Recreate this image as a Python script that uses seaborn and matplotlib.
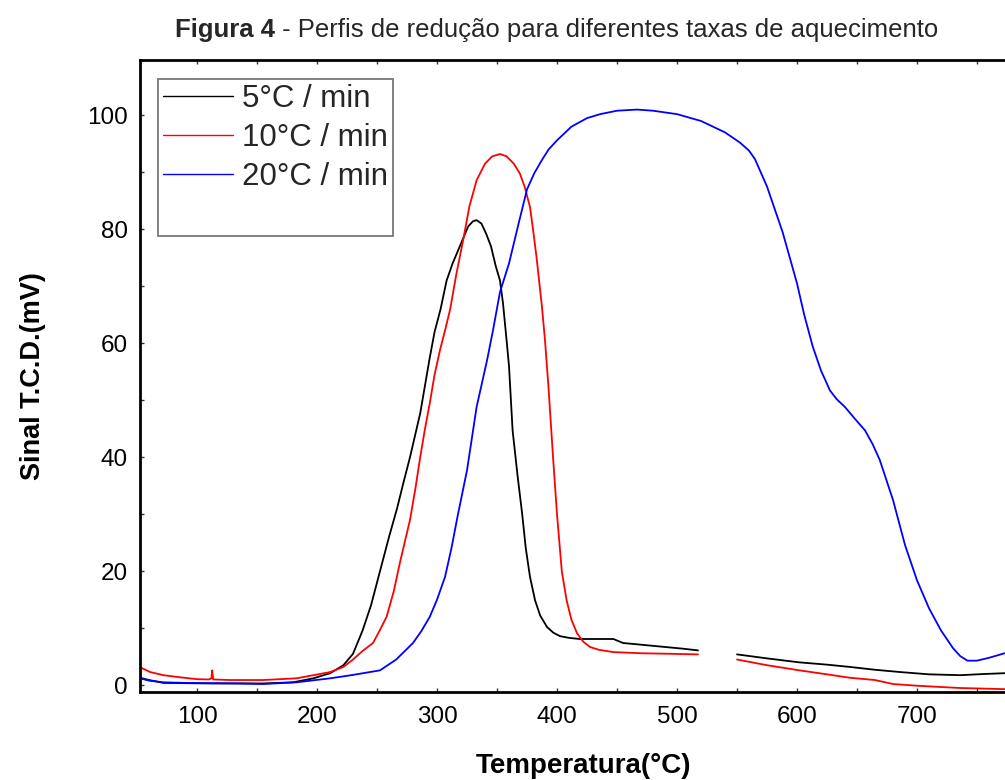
import numpy as np
import pandas as pd
import matplotlib
matplotlib.use("Agg")
import matplotlib.pyplot as plt
from matplotlib.lines import Line2D
from matplotlib.ticker import MultipleLocator
import seaborn as sns

# ---------------- data ----------------
series_labels = ["5°C / min", "10°C / min", "20°C / min"]
series_colors = ["#000000", "#FF0000", "#0000FF"]

# 5 °C/min (two segments, gap around 520-550 °C)
temp_5a = [52.5, 60, 72, 90, 110, 130, 155, 180, 197, 211, 222, 230, 238, 245, 252.5,
           260, 266.7, 272, 277.5, 286, 294, 298, 303, 308, 313, 317, 322, 326, 330, 333,
           337, 341, 345, 349, 352.5, 355, 358, 360, 363, 367, 371, 374, 377.5, 381.7,
           386, 391.7, 397, 402.5, 410, 419, 430, 440, 447, 455, 465, 475, 490, 505, 517.5]
sig_5a = [1.3, 0.9, 0.4, 0.35, 0.3, 0.3, 0.3, 0.5, 1.2, 2.1, 3.5, 5.5, 9.6, 14, 20,
          26, 31, 35.5, 40, 47.7, 57.5, 62, 66, 71, 74, 76, 78.5, 80.5, 81.4, 81.6,
          81, 79.2, 77, 73.5, 71, 67, 60.5, 56, 44.7, 37, 30, 24, 19, 14.9,
          12.2, 10.2, 9.2, 8.6, 8.3, 8.1, 8.1, 8.1, 8.1, 7.4, 7.2, 7.0, 6.7, 6.4, 6.1]
temp_5b = [550, 575, 602, 625, 644, 665, 686, 710, 736, 755, 773]
sig_5b = [5.4, 4.7, 4.0, 3.6, 3.2, 2.7, 2.3, 1.9, 1.75, 1.95, 2.1]

# 10 °C/min (two segments)
temp_10a = [52.5, 54, 61, 72, 85, 100, 110, 112, 112.7, 113.5, 127.5, 155, 183, 197, 211,
            222, 230, 238, 246.7, 252, 258, 264, 269, 273, 277.5, 282, 286, 290, 294, 298,
            302.5, 307, 311, 316, 321.7, 327, 333, 340, 346, 352.5, 358, 364, 369, 373,
            377.5, 380, 383, 387.5, 390, 393, 396.7, 400, 404, 408, 412, 416.7, 422,
            427.5, 435, 447, 470, 495, 517.5]
sig_10a = [3.2, 3.0, 2.3, 1.75, 1.4, 1.05, 1.0, 1.2, 2.6, 1.0, 0.9, 0.9, 1.2, 1.75, 2.3,
           3.2, 4.5, 6, 7.4, 9.5, 12, 16.5, 21.4, 25, 29, 34.5, 40, 45, 49.5, 54.5,
           58.8, 62.5, 66, 72, 78, 84, 88.6, 91.5, 92.8, 93.2, 92.8, 91.5, 89.8, 87.5,
           83.9, 80, 75, 66.3, 60.5, 52, 40, 30, 20, 14.9, 11.5, 9.1, 7.6,
           6.7, 6.2, 5.8, 5.6, 5.5, 5.4]
temp_10b = [550, 575, 602, 625, 644, 665, 680, 700, 736, 773]
sig_10b = [4.5, 3.5, 2.6, 1.9, 1.3, 0.9, 0.2, -0.1, -0.5, -0.7]

# 20 °C/min (continuous)
temp_20 = [52.5, 60, 72, 90, 113, 135, 155, 183, 211, 230, 252.5, 266, 280, 287, 294, 300,
           306.7, 312, 317.5, 325, 333, 341.7, 346.7, 352.5, 360, 368, 375, 381, 387, 393,
           400, 412, 425, 436, 450, 466.7, 480, 500, 520, 540, 552.5, 560, 565, 575, 588,
           600, 606, 613, 620, 627.5, 633, 640, 648, 656.7, 663, 669, 680, 690, 700, 710,
           720, 730, 736, 742, 750, 760, 773]
sig_20 = [1.2, 0.8, 0.5, 0.4, 0.35, 0.3, 0.2, 0.5, 1.2, 1.8, 2.6, 4.5, 7.4, 9.5, 12, 15,
          19, 24, 30, 37.7, 48.8, 57, 62.3, 69, 74, 81, 87, 89.8, 92, 94,
          95.6, 98, 99.5, 100.2, 100.8, 101, 100.8, 100.2, 99, 97, 95.2, 93.8, 92.3, 87.5, 79.5,
          70.5, 65, 59.5, 55.2, 51.7, 50.2, 48.8, 46.8, 44.7, 42.3, 39.5, 32.5, 24.6, 18.4, 13.5,
          9.6, 6.5, 5.1, 4.3, 4.3, 4.8, 5.6]

x_ticks = [100, 200, 300, 400, 500, 600, 700]
y_ticks = [0, 20, 40, 60, 80, 100]

# ---------------- long-format table ----------------
parts = []
for lab, seg, t, s in [
    (series_labels[0], "a", temp_5a, sig_5a),
    (series_labels[0], "b", temp_5b, sig_5b),
    (series_labels[1], "a", temp_10a, sig_10a),
    (series_labels[1], "b", temp_10b, sig_10b),
    (series_labels[2], "a", temp_20, sig_20),
]:
    parts.append(pd.DataFrame({"Temperatura": t, "Sinal": s, "Serie": lab, "Seg": seg}))
df = pd.concat(parts, ignore_index=True)

# ---------------- figure ----------------
sns.set_theme(style="white")
plt.rcParams["font.family"] = ["Liberation Sans", "DejaVu Sans"]

W, H = 1005, 780
fig = plt.figure(figsize=(W / 100, H / 100), dpi=100)
ax_left, ax_right, ax_top, ax_bot = 140, 1027, 60, 692
ax = fig.add_axes([ax_left / W, 1 - ax_bot / H, (ax_right - ax_left) / W, (ax_bot - ax_top) / H])

sns.lineplot(data=df, x="Temperatura", y="Sinal", hue="Serie", units="Seg",
             estimator=None, sort=False, palette=dict(zip(series_labels, series_colors)),
             hue_order=series_labels, linewidth=1.3, legend=False, ax=ax)

ax.set_xlim(52.5, 52.5 + (ax_right - ax_left) / 1.2)
ax.set_ylim(-1.2, 109.7)
ax.set_xticks(x_ticks)
ax.set_yticks(y_ticks)
ax.xaxis.set_minor_locator(MultipleLocator(50))
ax.yaxis.set_minor_locator(MultipleLocator(10))
ax.tick_params(axis="both", which="both", direction="in", length=3, width=1,
               color="#333333", top=True, right=False, bottom=True, left=True)
ax.tick_params(axis="x", which="major", labelsize=17.5, pad=10, labelcolor="black")
ax.tick_params(axis="y", which="major", labelsize=17.5, pad=9, labelcolor="black")

for side in ["left", "bottom", "top"]:
    ax.spines[side].set_visible(True)
    ax.spines[side].set_color("black")
    ax.spines[side].set_linewidth(2.0)
ax.spines["right"].set_visible(False)

ax.set_xlabel("Temperatura(°C)", fontsize=20, fontweight="bold", color="black")
ax.set_ylabel("Sinal T.C.D.(mV)", fontsize=19.5, fontweight="bold", color="black")
ax.xaxis.set_label_coords(0.5, -0.096)
ax.yaxis.set_label_coords(-0.106, 0.5)

# legend (with an empty fourth row as in the reference)
handles = [Line2D([], [], color=c, linewidth=1.0) for c in series_colors]
handles.append(Line2D([], [], color="none", linewidth=0))
leg = ax.legend(handles=handles, labels=series_labels + [" "], loc="upper left",
                bbox_to_anchor=((158 - ax_left) / (ax_right - ax_left), (ax_bot - 79) / (ax_bot - ax_top)),
                borderaxespad=0, fontsize=22.5, frameon=True, fancybox=False,
                edgecolor="#555555", handlelength=2.25, handletextpad=0.3,
                labelspacing=0.29, borderpad=0.15)
leg.get_frame().set_linewidth(1.3)

# title: bold part + regular part
ty = 1 - 30 / H
t1 = fig.text(175 / W, ty, "Figura 4", fontsize=18.5, fontweight="bold", ha="left", va="center")
fig.canvas.draw()
bb = t1.get_window_extent()
fig.text(bb.x1 / W, ty, " - Perfis de redução para diferentes taxas de aquecimento",
         fontsize=18.5, ha="left", va="center")

fig.savefig("out.png", dpi=100)
